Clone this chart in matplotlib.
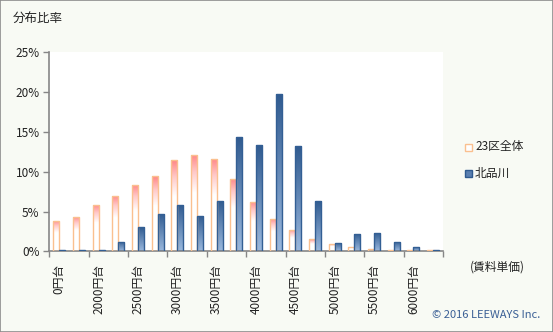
import numpy as np
import matplotlib
matplotlib.use("Agg")
import matplotlib.pyplot as plt
from matplotlib.colors import LinearSegmentedColormap
from matplotlib.patches import Rectangle

plt.rcParams['font.family'] = ['Noto Sans CJK JP', 'DejaVu Sans']

# 賃料単価帯（250円刻み）
categories = ["0円台", "1750円台", "2000円台", "2250円台", "2500円台", "2750円台",
              "3000円台", "3250円台", "3500円台", "3750円台", "4000円台", "4250円台",
              "4500円台", "4750円台", "5000円台", "5250円台", "5500円台", "5750円台",
              "6000円台", "6250円台"]
tick_labels = ["0円台", "", "2000円台", "", "2500円台", "", "3000円台", "", "3500円台", "",
               "4000円台", "", "4500円台", "", "5000円台", "", "5500円台", "", "6000円台", ""]

# 分布比率（%）
ward23 = [3.8, 4.3, 5.8, 6.9, 8.3, 9.4, 11.4, 12.1, 11.6, 9.1,
          6.2, 4.1, 2.7, 1.5, 0.9, 0.55, 0.3, 0.17, 0.15, 0.12]
kitashinagawa = [0.17, 0.17, 0.17, 1.15, 3.0, 4.7, 5.8, 4.4, 6.3, 14.3,
                 13.3, 19.7, 13.2, 6.3, 1.05, 2.2, 2.3, 1.15, 0.55, 0.17]

BG = "#f8faf4"
AXC = "#868686"

fig = plt.figure(figsize=(5.53, 3.32), dpi=100, facecolor=BG)
ax = fig.add_axes([49.3 / 553, 1 - 251.4 / 332, (443 - 49.3) / 553, (251.4 - 52) / 332])
ax.set_facecolor("white")

x = np.arange(len(categories))
w = 0.305
bars_a = ax.bar(x - w / 2, ward23, width=w, facecolor="none",
                edgecolor="#fac08f", linewidth=1.0, zorder=3)
bars_b = ax.bar(x + w / 2, kitashinagawa, width=w, facecolor="none",
                edgecolor="#335f94", linewidth=1.0, zorder=3)

pink_cmap = LinearSegmentedColormap.from_list(
    "pink", [(0.0, "#ffffff"), (0.6, "#ffffff"), (0.82, "#ffc8c8"), (1.0, "#ff8585")])
blue_cmap = LinearSegmentedColormap.from_list("blue", ["#9ab8de", "#2f5a8f"])
grad = np.linspace(0, 1, 256).reshape(-1, 1)


def fill_gradient(bars, cmap):
    for b in bars:
        x0, w0, h0 = b.get_x(), b.get_width(), b.get_height()
        clip = Rectangle((x0, 0), w0, h0, transform=ax.transData)
        im = ax.imshow(grad, cmap=cmap, origin="lower", aspect="auto",
                       extent=(x0, x0 + w0, 0, h0), zorder=2, interpolation="bilinear")
        im.set_clip_path(clip)


fill_gradient(bars_a, pink_cmap)
fill_gradient(bars_b, blue_cmap)

ax.set_xlim(-0.5, len(categories) - 0.5)
ax.set_ylim(0, 25)
ax.set_yticks(np.arange(0, 26, 5))
ax.set_yticklabels([f"{v}%" for v in range(0, 26, 5)], fontsize=8.5, color="#222222")

ax.set_xticks(x)
ax.set_xticklabels(tick_labels, rotation=90, fontsize=8.5, color="#222222")
ax.tick_params(axis="x", length=0, pad=9)
# 2区分ごとの目盛り線
ax.set_xticks(np.arange(-0.5, len(categories), 2), minor=True)
ax.tick_params(axis="x", which="minor", length=4, color=AXC, width=1)
ax.tick_params(axis="y", length=4, color=AXC, width=1, pad=3)

for s in ["top", "right"]:
    ax.spines[s].set_visible(False)
for s in ["left", "bottom"]:
    ax.spines[s].set_color(AXC)
    ax.spines[s].set_linewidth(1.2)

fig.text(13 / 553, 1 - 18 / 332, "分布比率", fontsize=9, va="center", ha="left", color="#222222")
fig.text(470 / 553, 1 - 267 / 332, "(賃料単価)", fontsize=8.5, va="center", ha="left", color="#222222")
fig.text(540 / 553, 1 - 315 / 332, "© 2016 LEEWAYS Inc.", fontsize=8, va="center", ha="right",
         color="#3a5f95")

# 凡例
lx, ly1, ly2 = 469 / 553, 1 - 147 / 332, 1 - 173 / 332
sq = 7
fig.patches.append(Rectangle((lx - sq / 553 / 2, ly1 - sq / 332 / 2), sq / 553, sq / 332,
                             transform=fig.transFigure, facecolor="white",
                             edgecolor="#fac08f", linewidth=1))
fig.patches.append(Rectangle((lx - sq / 553 / 2, ly2 - sq / 332 / 2), sq / 553, sq / 332,
                             transform=fig.transFigure, facecolor="#5a7fb0",
                             edgecolor="#2f5a8f", linewidth=1))
fig.text(lx + 6 / 553, ly1, "23区全体", fontsize=8.5, va="center", ha="left", color="#222222")
fig.text(lx + 6 / 553, ly2, "北品川", fontsize=8.5, va="center", ha="left", color="#222222")

# 外枠
fig.patches.append(Rectangle((0, 0), 1, 1, transform=fig.transFigure, facecolor="none",
                             edgecolor="#8c8c8c", linewidth=1.2))

fig.savefig("out.png", dpi=100, facecolor=BG)
